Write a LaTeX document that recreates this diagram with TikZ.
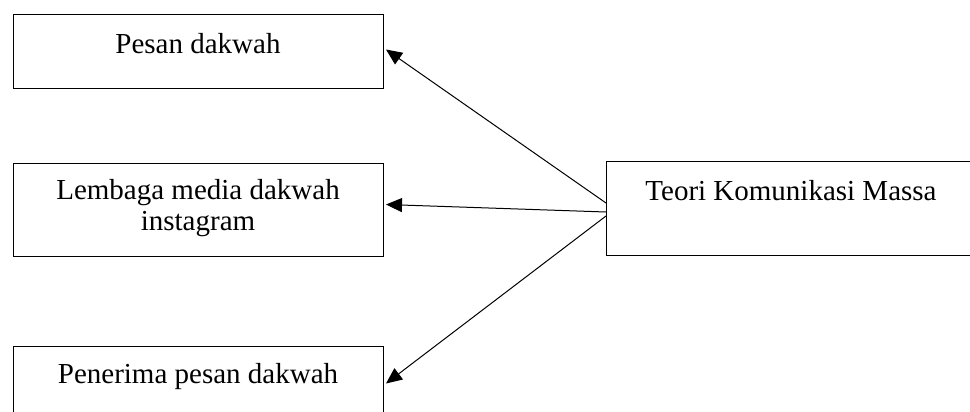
\documentclass[tikz,border=0pt]{standalone}
\usepackage{fontspec}
\setmainfont{Liberation Serif}
\usetikzlibrary{arrows.meta,calc}
\begin{document}
\begin{tikzpicture}[x=1pt,y=-1pt,
  box/.style={draw=black,line width=1pt,rectangle,inner sep=0pt,anchor=north west},
  lbl/.style={font=\fontsize{29}{31}\selectfont,align=center,inner sep=0pt},
  arr/.style={line width=1pt,-{Triangle[length=16pt,width=14pt]}}]
\useasboundingbox (0,0) rectangle (970,412);
\node[box,minimum width=370pt,minimum height=74pt] (b1) at (13,14) {};
\node[box,minimum width=370pt,minimum height=93pt] (b2) at (13,163) {};
\node[box,minimum width=370pt,minimum height=74pt] (b3) at (13,346) {};
\node[box,minimum width=372pt,minimum height=94pt] (b4) at (606,161) {};
\node[lbl] (t1) at (198,44) {Pesan dakwah};
\node[lbl] (t2) at (198,208) {Lembaga media dakwah\\instagram};
\node[lbl] (t3) at (198,377) {Penerima pesan dakwah};
\node[lbl] (t4) at (791,191) {Teori Komunikasi Massa};
\coordinate (s1) at (606,203);
\coordinate (s2) at (606,212);
\coordinate (s3) at (606,216);
\draw[arr] (s1) -- ($(b1.east)+(2,-2)$);
\draw[arr] (s2) -- ($(b2.east)+(2,-5.5)$);
\draw[arr] (s3) -- ($(b3.east)+(2,0)$);
\end{tikzpicture}
\end{document}
